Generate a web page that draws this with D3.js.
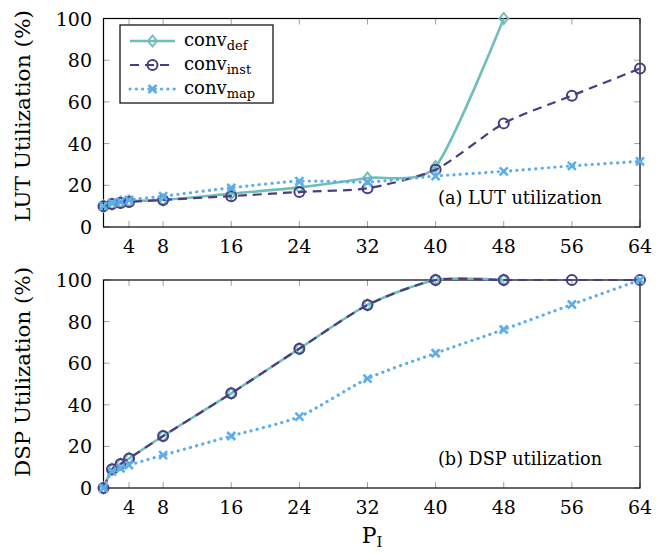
<!DOCTYPE html>
<html>
<head>
<meta charset="utf-8">
<script src="https://d3js.org/d3.v7.min.js"></script>
<style>
  body { margin: 0; background: #fff; }
  svg text { font-family: "DejaVu Serif", serif; fill: #000; }
</style>
</head>
<body>
<svg id="chart" width="668" height="554"></svg>
<script>
// x values (P_I)
let pI = [1, 2, 3, 4, 8, 16, 24, 32, 40, 48, 56, 64];
let xTicks = [4, 8, 16, 24, 32, 40, 48, 56, 64];
let yTicks = [0, 20, 40, 60, 80, 100];

// LUT utilization (%)
let lutDef  = [10, 11, 12, 12.5, 13, 16, 19, 23.5, 29, 100];
let lutInst = [10, 11, 11.5, 12, 13, 14.8, 16.8, 18.6, 27.5, 49.7, 63, 76];
let lutMap  = [10, 11.5, 12.2, 13, 14.8, 18.8, 22, 21.6, 24.4, 26.7, 29.3, 31.5];

// DSP utilization (%)
let dspDef  = [0, 9, 11.5, 14.2, 25, 45.5, 67, 88, 100, 100];
let dspInst = [0, 9, 11.5, 14.2, 25, 45.5, 67, 88, 100, 100, 100, 100];
let dspMap  = [0, 8, 9.5, 11, 15.8, 25, 34.3, 52.6, 64.8, 76.2, 88.2, 100];

let series = [
  { name: 'def',  color: '#70bdbb', dash: null,   width: 2.6, mark: 'diamond' },
  { name: 'inst', color: '#4b3b80', dash: '9,6',  width: 2.2, mark: 'circle' },
  { name: 'map',  color: '#5cadea', dash: '0.1,6.2', width: 3.2, mark: 'cross' }
];

let panels = [
  { top: 18.5, bottom: 227, data: [lutDef, lutInst, lutMap], title: 'LUT Utilization (%)', titleLen: 212, note: '(a) LUT utilization', titleY: 116 },
  { top: 280, bottom: 488, data: [dspDef, dspInst, dspMap], title: 'DSP Utilization (%)', titleLen: 210, note: '(b) DSP utilization', titleY: 372 }
];

let svg = d3.select('#chart');
let left = 103.5, right = 640;
let x = d3.scaleLinear().domain([1, 64]).range([left, right]);

function drawMark(g, type, cx, cy, color) {
  if (type === 'diamond') {
    let r = 5.5;
    g.append('path')
      .attr('d', `M${cx},${cy - r}L${cx + r * 0.8},${cy}L${cx},${cy + r}L${cx - r * 0.8},${cy}Z`)
      .attr('fill', 'none').attr('stroke', color).attr('stroke-width', 2);
  } else if (type === 'circle') {
    g.append('circle').attr('cx', cx).attr('cy', cy).attr('r', 5)
      .attr('fill', 'none').attr('stroke', color).attr('stroke-width', 2);
  } else {
    let r = 4;
    g.append('path')
      .attr('d', `M${cx - r},${cy - r}L${cx + r},${cy + r}M${cx - r},${cy + r}L${cx + r},${cy - r}`)
      .attr('stroke', color).attr('stroke-width', 2.6).attr('stroke-linecap', 'butt');
  }
}

panels.forEach(p => {
  let y = d3.scaleLinear().domain([0, 100]).range([p.bottom, p.top]);
  let g = svg.append('g');

  // ticks (inward, grey)
  xTicks.forEach(t => {
    g.append('line').attr('x1', x(t)).attr('x2', x(t)).attr('y1', p.bottom).attr('y2', p.bottom - 6)
      .attr('stroke', '#a0a0a0').attr('stroke-width', 1);
    g.append('line').attr('x1', x(t)).attr('x2', x(t)).attr('y1', p.top).attr('y2', p.top + 6)
      .attr('stroke', '#a0a0a0').attr('stroke-width', 1);
    g.append('text').attr('x', x(t)).attr('y', p.bottom + 26)
      .attr('text-anchor', 'middle').attr('font-size', 19).text(t);
  });
  yTicks.forEach(t => {
    g.append('line').attr('x1', left).attr('x2', left + 6).attr('y1', y(t)).attr('y2', y(t))
      .attr('stroke', '#a0a0a0').attr('stroke-width', 1);
    g.append('line').attr('x1', right).attr('x2', right - 6).attr('y1', y(t)).attr('y2', y(t))
      .attr('stroke', '#a0a0a0').attr('stroke-width', 1);
    g.append('text').attr('x', 92).attr('y', y(t) + 7)
      .attr('text-anchor', 'end').attr('font-size', 19).text(t);
  });

  // frame
  g.append('rect').attr('x', left).attr('y', p.top)
    .attr('width', right - left).attr('height', p.bottom - p.top)
    .attr('fill', 'none').attr('stroke', '#000').attr('stroke-width', 1.2);

  // axis title
  g.append('text')
    .attr('transform', `translate(30,${p.titleY}) rotate(-90)`)
    .attr('text-anchor', 'middle').attr('font-size', 21)
    .attr('textLength', p.titleLen).attr('lengthAdjust', 'spacingAndGlyphs').text(p.title);

  // annotation
  g.append('text').attr('x', 438).attr('y', p.bottom - 23)
    .attr('font-size', 18).attr('textLength', 164).attr('lengthAdjust', 'spacingAndGlyphs').text(p.note);

  // series
  let line = d3.line().x(d => x(d[0])).y(d => y(d[1])).curve(d3.curveCardinal.tension(0.3));
  p.data.forEach((vals, i) => {
    let s = series[i];
    let pts = vals.map((v, j) => [pI[j], v]);
    g.append('path').datum(pts).attr('d', line)
      .attr('fill', 'none').attr('stroke', s.color).attr('stroke-width', s.width)
      .attr('stroke-dasharray', s.dash).attr('stroke-linecap', s.name === 'map' ? 'round' : 'butt');
    pts.forEach(d => drawMark(g, s.mark, x(d[0]), y(d[1]), s.color));
  });
});

// x axis title P_I
let xt = svg.append('text').attr('x', 372).attr('y', 543).attr('text-anchor', 'middle').attr('font-size', 22);
xt.append('tspan').text('P');
xt.append('tspan').attr('font-size', 15).attr('dy', 4).text('I');

// legend
let lg = svg.append('g');
lg.append('rect').attr('x', 120).attr('y', 25).attr('width', 153).attr('height', 78)
  .attr('fill', '#fff').attr('stroke', '#000').attr('stroke-width', 1.2);
let legendNames = ['def', 'inst', 'map'];
series.forEach((s, i) => {
  let ly = 41 + i * 24;
  lg.append('line').attr('x1', 130).attr('x2', 175).attr('y1', ly).attr('y2', ly)
    .attr('stroke', s.color).attr('stroke-width', s.width)
    .attr('stroke-dasharray', s.dash).attr('stroke-linecap', s.name === 'map' ? 'round' : 'butt');
  drawMark(lg, s.mark, 152.5, ly, s.color);
  let t = lg.append('text').attr('x', 184).attr('y', ly + 5).attr('font-size', 18);
  t.append('tspan').text('conv');
  t.append('tspan').attr('font-size', 13).attr('dy', 4).text(legendNames[i]);
});
</script>
</body>
</html>
